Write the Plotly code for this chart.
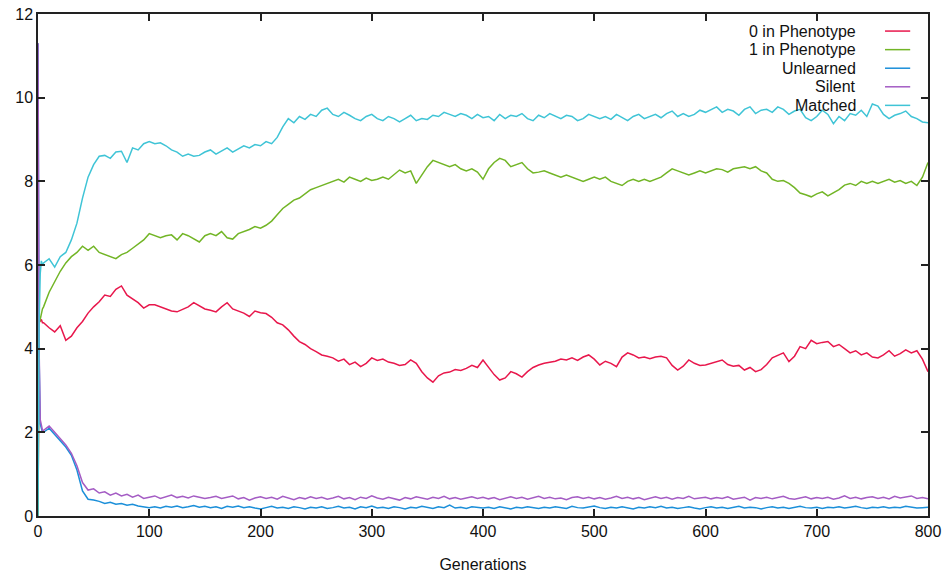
import plotly.graph_objects as go

generations = [0, 1, 2, 3, 4] + list(range(5, 801, 5))

zero_in_phenotype = [
    0, 4.7, 4.65, 4.7, 4.62,
    4.62, 4.5, 4.4, 4.55, 4.2, 4.3, 4.5, 4.65, 4.85, 5.0,
    5.12, 5.28, 5.25, 5.42, 5.5, 5.28, 5.2, 5.1, 4.97, 5.05,
    5.05, 5.0, 4.95, 4.9, 4.88, 4.95, 5.0, 5.1, 5.02, 4.95,
    4.92, 4.88, 5.0, 5.1, 4.95, 4.9, 4.85, 4.77, 4.9, 4.86,
    4.84, 4.75, 4.62, 4.57, 4.45, 4.3, 4.17, 4.1, 4.0, 3.93,
    3.85, 3.82, 3.78, 3.7, 3.75, 3.62, 3.68, 3.57, 3.65, 3.78,
    3.72, 3.75, 3.68, 3.65, 3.6, 3.62, 3.73, 3.65, 3.45, 3.3,
    3.2, 3.35, 3.42, 3.44, 3.5, 3.48, 3.53, 3.6, 3.55, 3.73,
    3.55, 3.38, 3.25, 3.3, 3.45, 3.4, 3.32, 3.45, 3.55, 3.61,
    3.65, 3.68, 3.7, 3.75, 3.73, 3.78, 3.72, 3.8, 3.85, 3.75,
    3.61, 3.7, 3.65, 3.57, 3.8, 3.9, 3.85, 3.78, 3.8, 3.76,
    3.8, 3.82, 3.78, 3.6, 3.49, 3.58, 3.73, 3.65, 3.6, 3.61,
    3.65, 3.7, 3.73, 3.62, 3.58, 3.6, 3.49, 3.55, 3.45, 3.5,
    3.62, 3.78, 3.85, 3.9, 3.69, 3.82, 4.05, 4.0, 4.2, 4.12,
    4.15, 4.17, 4.05, 4.1, 4.0, 3.9, 3.95, 3.85, 3.9, 3.8,
    3.78, 3.85, 3.95, 3.82, 3.88, 3.97, 3.9, 3.95, 3.75, 3.45,
]

one_in_phenotype = [
    0, 4.6, 4.7, 4.85, 4.95,
    5.0, 5.35, 5.6, 5.85, 6.05, 6.2, 6.3, 6.45, 6.35, 6.45,
    6.3, 6.25, 6.2, 6.15, 6.25, 6.3, 6.4, 6.5, 6.6, 6.75,
    6.7, 6.65, 6.7, 6.72, 6.6, 6.75, 6.7, 6.62, 6.55, 6.7,
    6.75, 6.7, 6.8, 6.65, 6.62, 6.75, 6.8, 6.85, 6.92, 6.88,
    6.95, 7.05, 7.2, 7.35, 7.45, 7.55, 7.6, 7.7, 7.8, 7.85,
    7.9, 7.95, 8.0, 8.05, 7.98, 8.1, 8.05, 8.0, 8.08, 8.02,
    8.05, 8.1, 8.05, 8.15, 8.27, 8.2, 8.25, 7.95, 8.15, 8.35,
    8.5, 8.45, 8.4, 8.35, 8.4, 8.3, 8.25, 8.3, 8.22, 8.05,
    8.3, 8.45, 8.55, 8.5, 8.35, 8.4, 8.45, 8.3, 8.2, 8.22,
    8.25, 8.2, 8.15, 8.1, 8.15, 8.1, 8.05, 8.0, 8.05, 8.1,
    8.05, 8.1, 8.0, 7.95, 7.9, 8.0, 8.05, 8.0, 8.05, 8.0,
    8.05, 8.1, 8.2, 8.3, 8.25, 8.2, 8.15, 8.2, 8.25, 8.2,
    8.25, 8.3, 8.28, 8.22, 8.3, 8.33, 8.35, 8.3, 8.35, 8.25,
    8.2, 8.05, 8.0, 8.02, 7.95, 7.85, 7.72, 7.68, 7.63, 7.7,
    7.75, 7.65, 7.72, 7.8, 7.91, 7.95, 7.9, 8.0, 7.95, 8.0,
    7.95, 8.0, 8.05, 7.98, 8.02, 7.95, 8.0, 7.9, 8.1, 8.45,
]

unlearned = [
    11.3, 3.8, 2.2, 2.1, 2.0,
    2.0, 2.1, 1.95, 1.8, 1.65, 1.45, 1.1, 0.6, 0.4, 0.38,
    0.35, 0.3, 0.33, 0.28, 0.3, 0.26, 0.28, 0.24, 0.22, 0.2,
    0.22, 0.19, 0.23, 0.21, 0.24, 0.2, 0.22, 0.25, 0.21, 0.23,
    0.2, 0.22, 0.18, 0.23, 0.21, 0.24, 0.2, 0.22, 0.19, 0.17,
    0.2, 0.23, 0.19, 0.21, 0.18, 0.22, 0.2, 0.17, 0.21, 0.19,
    0.22, 0.18, 0.2, 0.23, 0.19, 0.21, 0.17, 0.22, 0.2, 0.24,
    0.19, 0.21, 0.18, 0.22, 0.2, 0.17, 0.21, 0.19, 0.23, 0.2,
    0.18, 0.22, 0.2, 0.26, 0.19, 0.21, 0.18, 0.22, 0.2, 0.19,
    0.21, 0.18, 0.22, 0.2, 0.17, 0.21, 0.19, 0.22, 0.2, 0.18,
    0.21, 0.19, 0.22, 0.2, 0.18, 0.23, 0.2, 0.19, 0.21, 0.24,
    0.2, 0.18, 0.21, 0.19, 0.22, 0.2, 0.17, 0.21, 0.19, 0.22,
    0.2, 0.23, 0.19, 0.21, 0.18, 0.2, 0.22, 0.19, 0.17, 0.2,
    0.22, 0.19, 0.21, 0.18, 0.2, 0.23, 0.19, 0.21, 0.2, 0.17,
    0.2, 0.22, 0.19, 0.21, 0.18, 0.2, 0.23, 0.2, 0.19, 0.21,
    0.18, 0.21, 0.2, 0.22, 0.19, 0.21, 0.23, 0.2, 0.18, 0.21,
    0.2, 0.22, 0.19, 0.21, 0.2, 0.23, 0.21, 0.19, 0.2, 0.21,
]

silent = [
    11.3, 4.0, 2.3, 2.15, 2.05,
    2.05, 2.15, 2.0, 1.85, 1.7, 1.5, 1.2, 0.8, 0.62, 0.65,
    0.55, 0.58, 0.5, 0.55, 0.48, 0.52, 0.45, 0.5, 0.42, 0.45,
    0.48, 0.42, 0.46, 0.5, 0.44, 0.47, 0.43, 0.48, 0.45, 0.42,
    0.44, 0.47, 0.42, 0.45, 0.48, 0.41, 0.44, 0.38, 0.43, 0.46,
    0.42, 0.45, 0.4, 0.47, 0.43, 0.39, 0.44, 0.41, 0.46, 0.42,
    0.45, 0.4, 0.43, 0.47, 0.41, 0.44, 0.39, 0.45, 0.42, 0.48,
    0.43, 0.4, 0.45, 0.42, 0.38, 0.44, 0.41, 0.46, 0.43, 0.4,
    0.45, 0.42, 0.47, 0.41, 0.44, 0.4, 0.43, 0.46, 0.42, 0.45,
    0.41, 0.44, 0.39, 0.43, 0.46, 0.42, 0.45, 0.4, 0.44, 0.47,
    0.42, 0.45, 0.41, 0.43, 0.39, 0.44, 0.46, 0.42, 0.45, 0.41,
    0.44, 0.4, 0.43, 0.47, 0.42, 0.45, 0.41, 0.44, 0.39, 0.43,
    0.46, 0.42, 0.45, 0.4, 0.44, 0.42, 0.47, 0.41, 0.43, 0.45,
    0.41, 0.44, 0.42, 0.46, 0.4, 0.43, 0.45, 0.38, 0.44, 0.42,
    0.45, 0.41, 0.44, 0.47, 0.42, 0.4, 0.43, 0.46, 0.41, 0.44,
    0.42, 0.45, 0.4, 0.43, 0.48, 0.42, 0.45, 0.41, 0.44, 0.46,
    0.42, 0.45, 0.41, 0.47, 0.43, 0.45, 0.48, 0.42, 0.44, 0.41,
]

matched = [
    0, 4.6, 5.8, 6.1, 6.0,
    6.05, 6.15, 5.95, 6.2, 6.3, 6.6, 7.0, 7.6, 8.1, 8.4,
    8.6, 8.62, 8.55, 8.7, 8.72, 8.45, 8.8, 8.75, 8.9, 8.95,
    8.9, 8.92, 8.85, 8.75, 8.7, 8.6, 8.65, 8.6, 8.62, 8.7,
    8.75, 8.65, 8.72, 8.8, 8.7, 8.78, 8.85, 8.8, 8.88, 8.85,
    8.95, 8.9, 9.05, 9.3, 9.5, 9.4, 9.55, 9.48, 9.6, 9.55,
    9.7, 9.75, 9.6, 9.55, 9.65, 9.58, 9.5, 9.45, 9.55, 9.6,
    9.5, 9.45, 9.55, 9.5, 9.42, 9.5, 9.58, 9.45, 9.5, 9.48,
    9.58, 9.55, 9.65, 9.6, 9.55, 9.62, 9.58, 9.5, 9.6, 9.52,
    9.55, 9.45, 9.6, 9.5, 9.58, 9.55, 9.62, 9.5, 9.45, 9.58,
    9.52, 9.62, 9.55, 9.5, 9.58, 9.55, 9.45, 9.5, 9.6, 9.55,
    9.5, 9.55, 9.48, 9.6, 9.52, 9.45, 9.55, 9.6, 9.5, 9.55,
    9.6, 9.52, 9.62, 9.68, 9.55, 9.62, 9.55, 9.6, 9.7, 9.65,
    9.72, 9.78, 9.65, 9.72, 9.68, 9.58, 9.72, 9.78, 9.62, 9.7,
    9.72, 9.65, 9.78, 9.72, 9.6, 9.68, 9.72, 9.52, 9.45, 9.55,
    9.7, 9.6, 9.38, 9.55, 9.45, 9.62, 9.58, 9.7, 9.55, 9.85,
    9.8, 9.6, 9.5, 9.58, 9.62, 9.68, 9.55, 9.5, 9.42, 9.4,
]

series_names = ["0 in Phenotype", "1 in Phenotype", "Unlearned", "Silent", "Matched"]
series_values = [zero_in_phenotype, one_in_phenotype, unlearned, silent, matched]
series_colors = ["#e8174c", "#72b526", "#1b8fd9", "#a45cc4", "#3fc4d6"]

for v in series_values:
    assert len(v) == len(generations), (len(v), len(generations))

x_ticks = list(range(0, 801, 100))
y_ticks = list(range(0, 13, 2))

FONT = "Liberation Sans, Arial, Helvetica, sans-serif"

fig = go.Figure()
for name, vals, col in zip(series_names, series_values, series_colors):
    fig.add_trace(go.Scatter(x=generations, y=vals, mode="lines", name=name,
                             line=dict(color=col, width=1.5), showlegend=False))

# gnuplot-style key: right-aligned text with line sample on the right
row_y = [0.966, 0.929, 0.892, 0.855, 0.818]
for name, col, yy in zip(series_names, series_colors, row_y):
    fig.add_annotation(x=0.921, y=yy, xref="paper", yref="paper", text=name,
                       showarrow=False, xanchor="right", yanchor="middle",
                       font=dict(family=FONT, size=16, color="#111"))
    fig.add_shape(type="line", xref="paper", yref="paper", x0=0.9517, x1=0.98, y0=yy, y1=yy,
                  line=dict(color=col, width=1.5))

axis_common = dict(showgrid=False, zeroline=False, showline=True, linecolor="#222", linewidth=1.5,
                   mirror="allticks", ticks="inside", ticklen=7, tickcolor="#222", tickwidth=1.5,
                   automargin=False,
                   tickfont=dict(family=FONT, size=16, color="#111"))

fig.update_layout(
    width=944, height=575,
    margin=dict(l=38, r=16, t=14, b=59),
    plot_bgcolor="white", paper_bgcolor="white",
    xaxis=dict(range=[0, 800], tickvals=x_ticks, ticktext=[str(t) for t in x_ticks],
               title=dict(text="Generations", standoff=20,
                          font=dict(family=FONT, size=16, color="#111")),
               **axis_common),
    yaxis=dict(range=[0, 12], tickvals=y_ticks, ticktext=[str(t) for t in y_ticks], **axis_common),
)

fig.write_html("out.html", config={"displayModeBar": False},
               post_script="document.body.style.margin='0';document.body.style.overflow='hidden';")
